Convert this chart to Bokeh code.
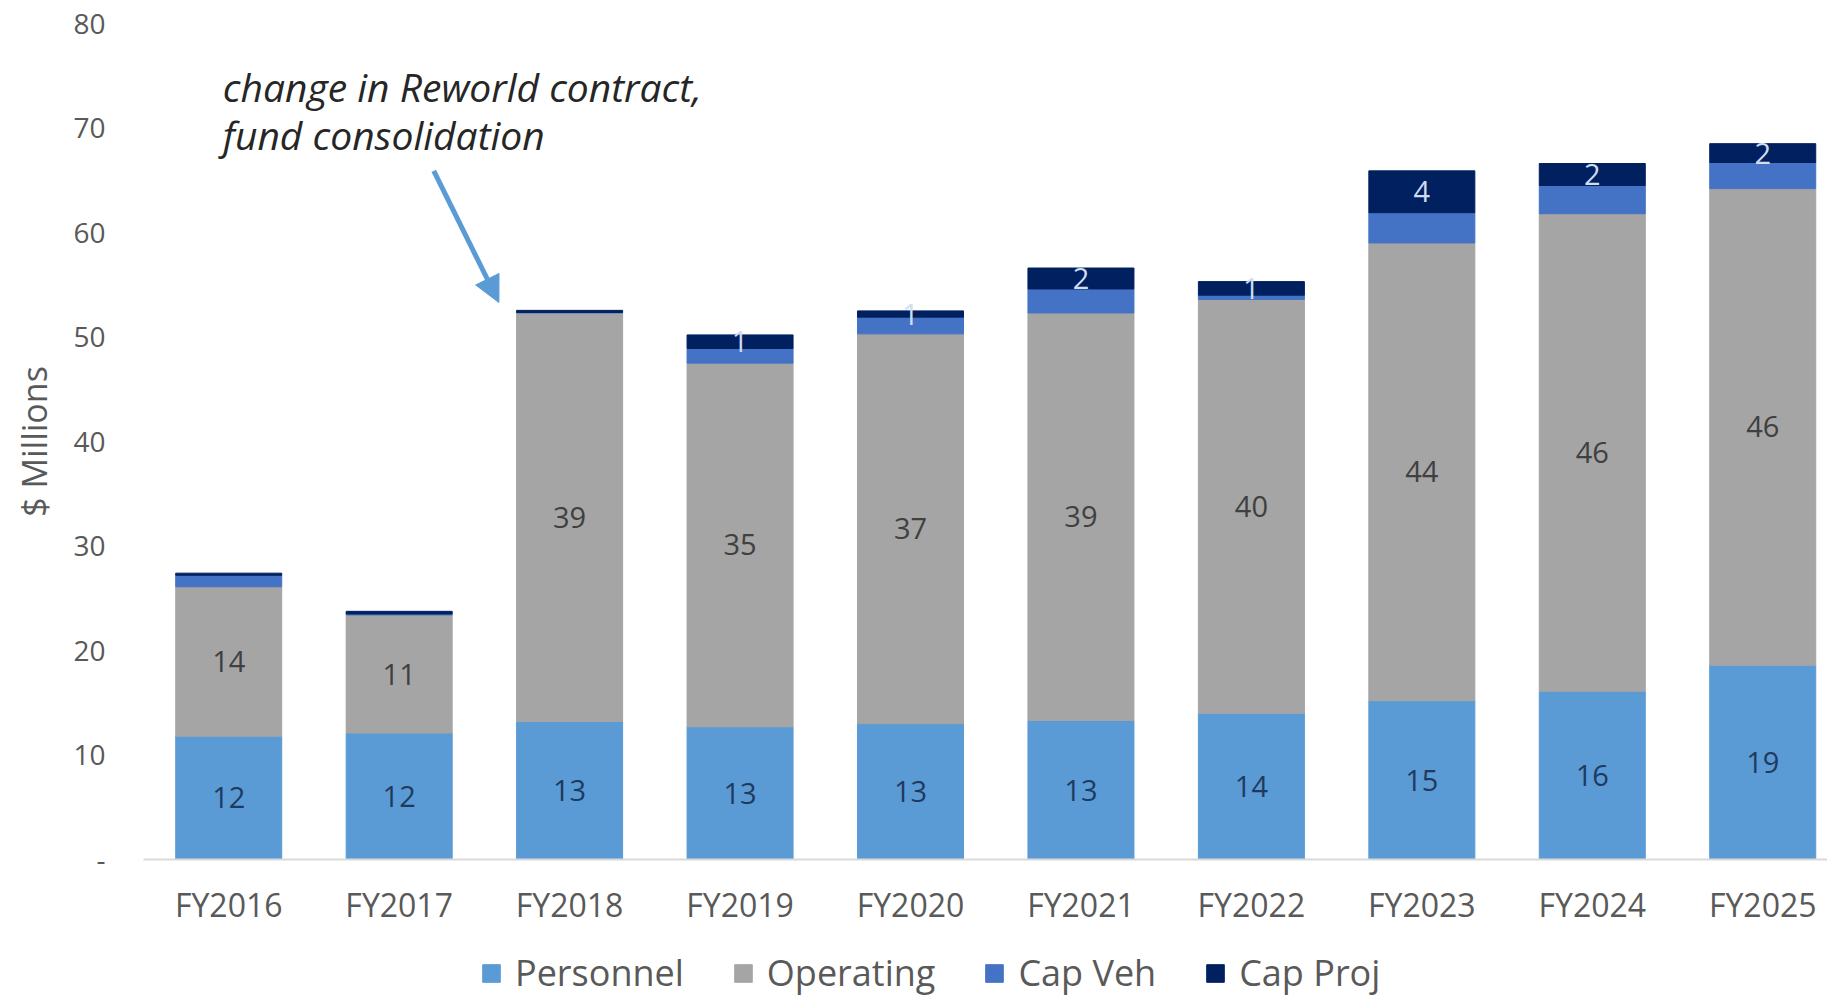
from bokeh.plotting import figure
from bokeh.layouts import column
from bokeh.models import (ColumnDataSource, Range1d, FixedTicker, Legend, LegendItem,
                          Label, Arrow, NormalHead)
from bokeh.core.properties import value
from bokeh.embed import file_html
from bokeh.resources import INLINE

# ---- data ----
years = ["FY2016", "FY2017", "FY2018", "FY2019", "FY2020",
         "FY2021", "FY2022", "FY2023", "FY2024", "FY2025"]
personnel = [11.8, 12.1, 13.2, 12.7, 13.0, 13.3, 14.0, 15.2, 16.1, 18.6]
operating = [14.3, 11.3, 39.1, 34.8, 37.3, 39.0, 39.6, 43.8, 45.7, 45.6]
cap_veh = [1.1, 0.1, 0.05, 1.4, 1.6, 2.3, 0.4, 2.9, 2.7, 2.5]
cap_proj = [0.2, 0.25, 0.2, 1.3, 0.6, 2.0, 1.3, 4.0, 2.1, 1.8]
series_names = ["Personnel", "Operating", "Cap Veh", "Cap Proj"]
y_ticks = [0, 10, 20, 30, 40, 50, 60, 70, 80]

colors = ["#5B9BD5", "#A5A5A5", "#4472C4", "#002060"]
label_colors = ["#1F3A5F", "#404040", None, "#D0DCF0"]
FONT = "Open Sans"

xs = list(range(len(years)))
source = ColumnDataSource(dict(x=xs, Personnel=personnel, Operating=operating,
                               **{"Cap Veh": cap_veh, "Cap Proj": cap_proj}))

# ---- main chart ----
p = figure(width=1827, height=940, x_range=Range1d(-0.5, 9.38), y_range=Range1d(0, 80),
           output_backend="svg", toolbar_location=None,
           min_border_left=143, min_border_right=0, min_border_top=23, min_border_bottom=81)
p.outline_line_color = None
p.xgrid.visible = False
p.ygrid.visible = False

renderers = p.vbar_stack(series_names, x="x", width=0.622, color=colors, source=source)

all_series = [personnel, operating, cap_veh, cap_proj]
bottom = [0.0] * len(years)
for si, vals in enumerate(all_series):
    lx, ly, lt = [], [], []
    for i, v in enumerate(vals):
        if label_colors[si] is not None and round(v) >= 1:
            lx.append(xs[i])
            ly.append(bottom[i] + v / 2)
            lt.append("%d" % int(v + 0.5))
        bottom[i] += v
    if lx:
        p.text(x=lx, y=ly, text=lt, text_align="center", text_baseline="middle",
               text_font=value(FONT), text_font_size="29px", text_color=label_colors[si])

p.yaxis.ticker = FixedTicker(ticks=y_ticks)
p.yaxis.major_label_overrides = {0: "-"}
p.yaxis.axis_line_color = None
p.yaxis.major_tick_line_color = None
p.yaxis.minor_tick_line_color = None
p.yaxis.major_tick_out = 0
p.yaxis.major_tick_in = 0
p.yaxis.minor_tick_out = 0
p.yaxis.major_label_text_font = FONT
p.yaxis.major_label_text_font_size = "28px"
p.yaxis.major_label_text_color = "#595959"
p.yaxis.major_label_standoff = 38
p.yaxis.axis_label = "$ Millions"
p.yaxis.axis_label_text_font = FONT
p.yaxis.axis_label_text_font_size = "34px"
p.yaxis.axis_label_text_font_style = "normal"
p.yaxis.axis_label_text_color = "#595959"
p.yaxis.axis_label_standoff = 13

p.xaxis.ticker = FixedTicker(ticks=xs)
p.xaxis.major_label_overrides = {i: years[i] for i in xs}
p.xaxis.axis_line_color = "#D9D9D9"
p.xaxis.axis_line_width = 2
p.xaxis.major_tick_line_color = None
p.xaxis.minor_tick_line_color = None
p.xaxis.major_tick_out = 0
p.xaxis.major_tick_in = 0
p.xaxis.minor_tick_out = 0
p.xaxis.major_label_text_font = FONT
p.xaxis.major_label_text_font_size = "32px"
p.xaxis.major_label_text_color = "#595959"
p.xaxis.major_label_standoff = 23

# ---- annotation ----
p.add_layout(Label(x=-0.035, y=73.95, text="change in Reworld contract,", text_font=FONT,
                   text_font_style="italic", text_font_size="39px", text_color="#262626",
                   text_baseline="alphabetic", text_align="left"))
p.add_layout(Label(x=-0.035, y=69.4, text="fund consolidation", text_font=FONT,
                   text_font_style="italic", text_font_size="39px", text_color="#262626",
                   text_baseline="alphabetic", text_align="left"))
p.add_layout(Arrow(end=NormalHead(size=26, fill_color="#5B9BD5", line_color="#5B9BD5"),
                   x_start=1.203, y_start=65.9, x_end=1.585, y_end=53.3,
                   line_color="#5B9BD5", line_width=5))

# ---- legend strip (separate figure so the legend is never clipped) ----
# proxies use the same data, drawn outside this strip's visible range
p2 = figure(width=1827, height=60, x_range=Range1d(100, 101), y_range=Range1d(100, 101),
            output_backend="svg", toolbar_location=None,
            x_axis_location=None, y_axis_location=None,
            min_border_left=143, min_border_right=0,
            min_border_top=0, min_border_bottom=0)
p2.outline_line_color = None
p2.xgrid.visible = False
p2.ygrid.visible = False
proxies = p2.vbar_stack(series_names, x="x", width=0.622, color=colors, source=source)
legend = Legend(items=[LegendItem(label=n, renderers=[r]) for n, r in zip(series_names, proxies)],
                location=(337, 3), orientation="horizontal",
                label_text_font=FONT, label_text_font_size="36px", label_text_color="#595959",
                glyph_width=22, glyph_height=22, label_standoff=13, spacing=48,
                padding=0, margin=0, border_line_color=None, background_fill_alpha=0)
p2.add_layout(legend, "center")

layout = column(p, p2, spacing=0)
open("out.html", "w").write(file_html(layout, INLINE))
